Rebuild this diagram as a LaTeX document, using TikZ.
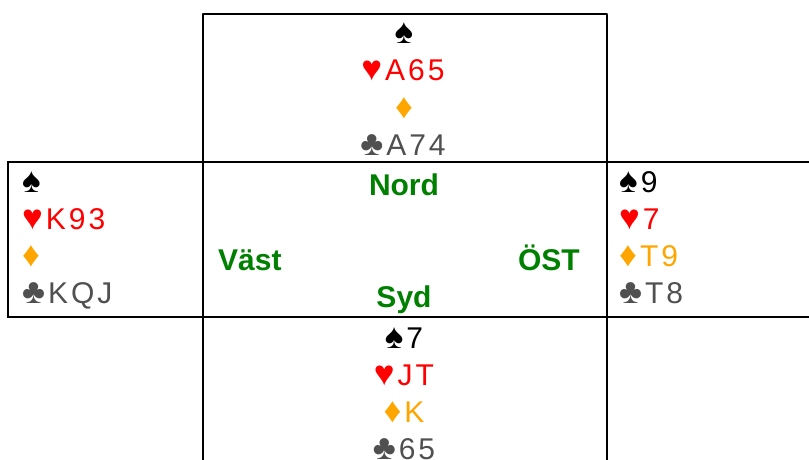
\documentclass[tikz,border=0pt]{standalone}
\usepackage{fontspec}
\setmainfont{Liberation Sans}
\usetikzlibrary{positioning}
\definecolor{spdcol}{RGB}{0,0,0}
\definecolor{hrtcol}{RGB}{255,0,0}
\definecolor{dmdcol}{RGB}{255,165,0}
\definecolor{clbcol}{RGB}{80,80,80}
\definecolor{dircol}{RGB}{0,128,0}
\newcommand{\suitsym}[1]{{\fontsize{35}{36}\selectfont #1}\kern3pt}
\tikzset{
    cardtxt/.style={
        font=\fontsize{30}{36}\selectfont\addfontfeatures{LetterSpace=10}
    }
}

\begin{document}
\begin{tikzpicture}[x=1pt,y=-1pt, line cap=round, line join=round]

\tikzset{
  grid/.style={draw=black, line width=2pt, line cap=rect},
  spd/.style={cardtxt, text=spdcol, inner sep=0pt},
  hrt/.style={cardtxt, text=hrtcol, inner sep=0pt},
  dmd/.style={cardtxt, text=dmdcol, inner sep=0pt},
  clb/.style={cardtxt, text=clbcol, inner sep=0pt},
  dir/.style={font=\fontsize{30}{36}\selectfont\bfseries, text=dircol, inner sep=0pt},
}

\useasboundingbox (0,0) rectangle (809,460);

\coordinate (TL) at (203,14);
\coordinate (TR) at (607,14);
\coordinate (ML) at (8,162);
\coordinate (MR) at (809,162);
\coordinate (LL) at (8,317);
\coordinate (LR) at (809,317);

% table lines
\draw[grid] (203,460) -- (TL) -- (TR) -- (607,460);
\draw[grid] (ML) -- (MR);
\draw[grid] (LL) -- (LR);
\draw[grid] (ML) -- (LL);

% north hand
\node[spd, anchor=base] (nS) at (404,44) {{\fontsize{35}{36}\selectfont ♠}};
\node[hrt, anchor=base] (nH) at (403,81) {\suitsym{♥}A65};
\node[dmd, anchor=base] (nD) at (404,118) {{\fontsize{35}{36}\selectfont ♦}};
\node[clb, anchor=base] (nC) at (403,155) {\suitsym{♣}A74};

% west hand
\node[spd, anchor=base west] (wS) at (22,192) {\suitsym{♠}};
\node[hrt, anchor=base west] (wH) at (22,229) {\suitsym{♥}K93};
\node[dmd, anchor=base west] (wD) at (22,266) {\suitsym{♦}};
\node[clb, anchor=base west] (wC) at (22,303) {\suitsym{♣}KQJ};

% east hand
\node[spd, anchor=base west] (eS) at (619,192) {\suitsym{♠}9};
\node[hrt, anchor=base west] (eH) at (619,229) {\suitsym{♥}7};
\node[dmd, anchor=base west] (eD) at (619,266) {\suitsym{♦}T9};
\node[clb, anchor=base west] (eC) at (619,303) {\suitsym{♣}T8};

% south hand
\node[spd, anchor=base] (sS) at (404,348) {\suitsym{♠}7};
\node[hrt, anchor=base] (sH) at (404,385) {\suitsym{♥}JT};
\node[dmd, anchor=base] (sD) at (404,422) {\suitsym{♦}K};
\node[clb, anchor=base] (sC) at (404,459) {\suitsym{♣}65};

% compass
\node[dir, anchor=base] (nord) at (404,195) {Nord};
\node[dir, anchor=base west] (vast) at (218,270) {Väst};
\node[dir, anchor=base east] (ost) at (580,270) {ÖST};
\node[dir, anchor=base] (syd) at (404,307) {Syd};

\end{tikzpicture}
\end{document}
